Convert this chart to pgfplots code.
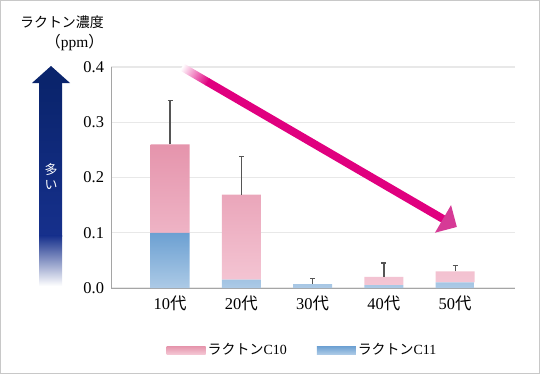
\documentclass[border=0pt]{standalone}
\usepackage{fontspec}
\setmainfont{Liberation Serif}
\newfontfamily\jp{Noto Sans CJK JP}
\usepackage{pgfplots}
\usepackage{pgfplotstable}
\pgfplotsset{compat=1.18}
\definecolor{pinkT}{RGB}{229,148,172}
\definecolor{pinkB}{RGB}{244,198,212}
\definecolor{blueT}{RGB}{108,160,210}
\definecolor{blueB}{RGB}{172,202,230}
\definecolor{navyT}{RGB}{10,36,108}
\definecolor{navyM}{RGB}{22,48,140}
\definecolor{mag}{RGB}{224,0,127}
\definecolor{maghead}{RGB}{214,58,150}
\definecolor{errc}{RGB}{85,85,85}
\definecolor{axc}{RGB}{165,165,165}
\definecolor{gridc}{RGB}{232,232,232}
\definecolor{framec}{RGB}{200,200,200}

\pgfplotstableread{
x c11 c10 tot err
0 0.100 0.160 0.260 0.079
1 0.015 0.154 0.169 0.069
2 0.007 0.000 0.007 0.0105
3 0.005 0.015 0.020 0.025
4 0.010 0.020 0.030 0.011
}\data

\begin{document}
\begin{tikzpicture}[x=1bp,y=1bp]
\useasboundingbox (0,0) rectangle (540,374);
\draw[framec, line width=1bp] (0.5,0.5) rectangle (539.5,373.5);

\begin{axis}[
  at={(111bp,86bp)}, anchor=south west, scale only axis,
  width=404bp, height=221bp,
  xmin=-0.83, xmax=4.84, ymin=0, ymax=0.4,
  ybar stacked, bar width=39bp,
  axis x line*=bottom, axis y line*=left,
  axis line style={draw=axc, line width=1bp},
  ytick={0,0.1,0.2,0.3,0.4},
  xtick={0,1,2,3,4},
  xticklabels={10{\jp 代},20{\jp 代},30{\jp 代},40{\jp 代},50{\jp 代}},
  major tick length=0pt,
  ymajorgrids, grid style={draw=gridc, line width=1.2bp},
  tick label style={font=\fontsize{16.5}{16.5}\selectfont},
  xticklabel style={yshift=-4bp},
  yticklabel style={xshift=-3.5bp, /pgf/number format/.cd, fixed, fixed zerofill, precision=1},
  /pgf/number format/assume math mode=true,
  reverse legend,
  legend columns=2,
  legend style={draw=none, fill=none, at={(0.474,-0.281)}, anchor=center,
    font=\fontsize{14}{14}\selectfont,
    /tikz/every even column/.append style={column sep=28bp}},
]
\addplot[draw=none, top color=blueT, bottom color=blueB,
  legend image code/.code={\shade[top color=blueT, bottom color=blueB] (0bp,-4bp) rectangle (39bp,4bp);}]
  table[x=x, y=c11] {\data};
\addlegendentry{{\jp ラクトン}C11}
\addplot[draw=none, top color=pinkT, bottom color=pinkB,
  legend image code/.code={\shade[top color=pinkT, bottom color=pinkB] (0bp,-4bp) rectangle (39bp,4bp);}]
  table[x=x, y=c10] {\data};
\addlegendentry{{\jp ラクトン}C10}
\end{axis}

\begin{axis}[
  at={(111bp,86bp)}, anchor=south west, scale only axis,
  width=404bp, height=221bp,
  xmin=-0.83, xmax=4.84, ymin=0, ymax=0.4,
  hide axis,
]
\addplot[draw=none, mark=none, forget plot,
  error bars/.cd, y dir=plus, y explicit,
  error bar style={draw=errc, line width=1.3bp},
  error mark options={draw=errc, line width=1.3bp, mark size=2.5bp, rotate=90}]
  table[x=x, y=tot, y error=err] {\data};
\end{axis}

% left "more" arrow
\shade[top color=navyT, bottom color=navyM] (39,138) rectangle (62,291.5);
\shade[top color=navyM, bottom color=white] (39,88) rectangle (62,138.5);
\fill[navyT] (32,291) -- (70,291) -- (51,308) -- cycle;
\node[text=white, font=\jp\fontsize{13}{15}\selectfont, align=center, inner sep=0pt] at (51,197) {多\\い};

% title
\node[anchor=east, inner sep=0pt, font=\jp\fontsize{14}{14}\selectfont] at (104,352) {ラクトン濃度};
\node[anchor=east, inner sep=0pt, font=\fontsize{15.5}{15.5}\selectfont] at (104,331) {{\jp （}ppm{\jp ）}};

% magenta trend arrow
\begin{scope}[transform canvas={shift={(182,307)}, rotate=-30.2}]
\shade[left color=white, right color=mag] (0,-4) rectangle (30,4);
\fill[mag] (29.5,-4) rectangle (303,4);
\fill[maghead] (302,-16) -- (318,0) -- (302,16) -- cycle;
\end{scope}
\end{tikzpicture}
\end{document}
